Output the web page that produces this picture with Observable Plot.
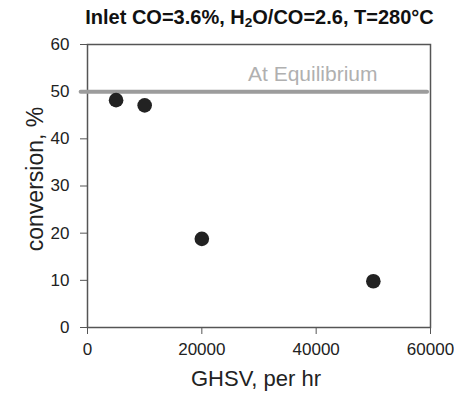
<!DOCTYPE html>
<html><head><meta charset="utf-8">
<script src="https://cdn.jsdelivr.net/npm/d3@7"></script>
<script src="https://cdn.jsdelivr.net/npm/@observablehq/plot@0.6"></script>
<style>
body{margin:0;background:#fff;font-family:"Liberation Sans",Arial,sans-serif}
#title{width:454px;height:32px;box-sizing:border-box;padding-left:65px;padding-top:2px;line-height:30px;text-align:center;font-weight:bold;font-size:20px;color:#111;white-space:nowrap;overflow:visible}
#title sub{font-size:0.68em;line-height:0;vertical-align:-0.2em}
svg{display:block}
</style></head>
<body>
<div id="title">Inlet CO=3.6%, H<sub>2</sub>O/CO=2.6, T=280°C</div>
<div id="chart"></div>
<script>
const ghsv = [5000, 10000, 20000, 50000];
const conversion = [48.2, 47.1, 18.8, 9.8];
const eqX = [-1200, 59400];
const eqY = [50, 50];
const eqLabel = ["At Equilibrium"];
const eqLabelX = [39400];
const eqLabelY = [53.7];
const xTicks = [0, 20000, 40000, 60000];
const yTicks = [0, 10, 20, 30, 40, 50, 60];
const xLabel = "GHSV, per hr";
const yLabel = "conversion, %";

const points = ghsv.map((g, i) => ({g, c: conversion[i]}));
const eq = eqX.map((x, i) => ({x, y: eqY[i]}));
const eqText = eqLabel.map((t, i) => ({t, x: eqLabelX[i], y: eqLabelY[i]}));

const chart = Plot.plot({
  width: 454,
  height: 363,
  marginTop: 12,
  marginBottom: 68,
  marginLeft: 87,
  marginRight: 24,
  style: {fontFamily: "'Liberation Sans', Arial, sans-serif", fontSize: "17px", color: "#222", background: "white", overflow: "visible"},
  x: {domain: [0, 60000]},
  y: {domain: [0, 60]},
  marks: [
    Plot.frame({stroke: "#555", strokeWidth: 1.5}),
    Plot.axisX({ticks: xTicks, tickFormat: "d", tickSize: 7, tickPadding: 8, label: null, stroke: "#555", fontSize: 17}),
    Plot.axisY({ticks: yTicks, tickFormat: "d", tickSize: 7, tickPadding: 11, label: null, stroke: "#555", fontSize: 17}),
    Plot.line(eq, {x: "x", y: "y", stroke: "#9c9c9c", strokeWidth: 4}),
    Plot.text(eqText, {x: "x", y: "y", text: "t", fill: "#b0b0b0", fontSize: 21, textAnchor: "middle", lineAnchor: "middle"}),
    Plot.dot(points, {x: "g", y: "c", r: 7.3, fill: "#222", stroke: "none"}),
    Plot.text([yLabel], {text: d => d, frameAnchor: "left", rotate: -90, dx: -52, dy: -7, fontSize: 23, textAnchor: "middle", lineAnchor: "middle", fill: "#222"}),
    Plot.text([xLabel], {text: d => d, frameAnchor: "bottom", dx: -3, dy: 51, fontSize: 22, textAnchor: "middle", lineAnchor: "middle", fill: "#222"})
  ]
});
document.getElementById("chart").appendChild(chart);
</script>
</body></html>
